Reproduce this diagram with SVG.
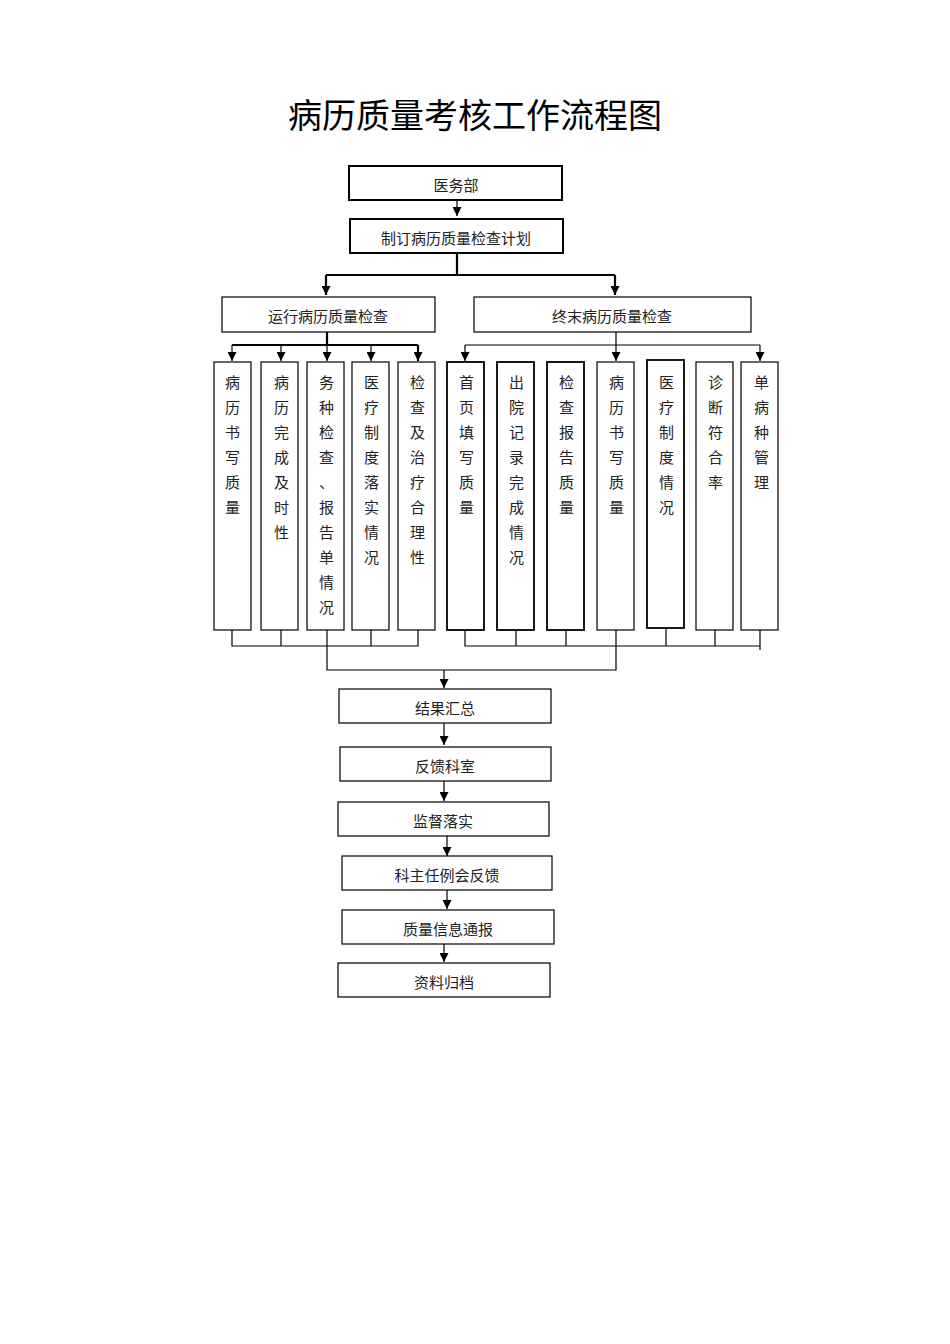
<svg xmlns="http://www.w3.org/2000/svg" width="950" height="1344" viewBox="0 0 950 1344">
<defs>
<marker id="a" viewBox="0 0 10 10" refX="10" refY="5" markerWidth="9" markerHeight="9" markerUnits="userSpaceOnUse" orient="auto"><path d="M0,0L10,5L0,10z" fill="#000"/></marker>
<style>
.b{fill:#fff;stroke:#000;stroke-width:1.2}
.t{font-family:"Noto Sans CJK SC",sans-serif;font-size:15px;fill:#222;text-anchor:middle}
.v{font-family:"Noto Sans CJK SC",sans-serif;font-size:15px;fill:#222;text-anchor:middle}
.c{fill:none;stroke:#000;stroke-width:1.2}
.k{fill:none;stroke:#000;stroke-width:2.2}
</style>
</defs>
<rect width="950" height="1344" fill="#fff"/>
<text x="475" y="128" style="font-family:'Noto Sans CJK SC',sans-serif;font-size:34px;text-anchor:middle">病历质量考核工作流程图</text>
<g id="connectors">
<path class="c" d="M457,200V216" marker-end="url(#a)"/>
<path class="k" d="M457,253V275M326,275H615"/>
<path class="k" d="M326,275V295" marker-end="url(#a)"/>
<path class="k" d="M615,275V295" marker-end="url(#a)"/>
<path class="k" d="M327,332V345M232,345H418"/>
<path class="c" d="M232,345V361" marker-end="url(#a)"/><path class="c" d="M281,345V361" marker-end="url(#a)"/><path class="c" d="M327,345V361" marker-end="url(#a)"/><path class="c" d="M371,345V361" marker-end="url(#a)"/><path class="k" d="M418,345V361" marker-end="url(#a)"/>
<path class="c" d="M616,332V345M465,345H760"/>
<path class="c" d="M465,345V361" marker-end="url(#a)"/><path class="c" d="M616,345V361" marker-end="url(#a)"/><path class="c" d="M760,345V361" marker-end="url(#a)"/>
<path class="c" d="M232,630V646H418V630M281,630V646M371,630V646"/>
<path class="c" d="M465,630V646H760V650M516,630V646M566,630V646M666,628V646M715,630V646M760,630V646"/>
<path class="c" d="M327,630V670H616V630M444,670V688" marker-end="url(#a)"/>
<path class="c" d="M444,723V745" marker-end="url(#a)"/>
<path class="c" d="M444,781V801" marker-end="url(#a)"/>
<path class="c" d="M447,836V856" marker-end="url(#a)"/>
<path class="c" d="M447,890V909" marker-end="url(#a)"/>
<path class="c" d="M444,944V962" marker-end="url(#a)"/>
</g>
<g id="n1"><rect class="b" x="349" y="166" width="213" height="34" style="stroke-width:2"/><text class="t" x="456" y="191">医务部</text></g>
<g id="n2"><rect class="b" x="350" y="219" width="213" height="34" style="stroke-width:2"/><text class="t" x="456" y="244">制订病历质量检查计划</text></g>
<g id="n3"><rect class="b" x="222" y="297" width="213" height="35"/><text class="t" x="328" y="322">运行病历质量检查</text></g>
<g id="n4"><rect class="b" x="474" y="297" width="277" height="35"/><text class="t" x="612" y="322">终末病历质量检查</text></g>
<g id="c1"><rect class="b" x="214" y="362" width="37" height="268"/><text class="v" x="232.5" y="388"><tspan x="232.5">病</tspan><tspan x="232.5" dy="25">历</tspan><tspan x="232.5" dy="25">书</tspan><tspan x="232.5" dy="25">写</tspan><tspan x="232.5" dy="25">质</tspan><tspan x="232.5" dy="25">量</tspan></text></g>
<g id="c2"><rect class="b" x="261" y="362" width="37" height="268"/><text class="v" x="281.5" y="388"><tspan x="281.5">病</tspan><tspan x="281.5" dy="25">历</tspan><tspan x="281.5" dy="25">完</tspan><tspan x="281.5" dy="25">成</tspan><tspan x="281.5" dy="25">及</tspan><tspan x="281.5" dy="25">时</tspan><tspan x="281.5" dy="25">性</tspan></text></g>
<g id="c3"><rect class="b" x="307" y="362" width="37" height="268"/><text class="v" x="326.5" y="388"><tspan x="326.5">务</tspan><tspan x="326.5" dy="25">种</tspan><tspan x="326.5" dy="25">检</tspan><tspan x="326.5" dy="25">查</tspan><tspan x="326.5" dy="25">、</tspan><tspan x="326.5" dy="25">报</tspan><tspan x="326.5" dy="25">告</tspan><tspan x="326.5" dy="25">单</tspan><tspan x="326.5" dy="25">情</tspan><tspan x="326.5" dy="25">况</tspan></text></g>
<g id="c4"><rect class="b" x="352" y="362" width="37" height="268"/><text class="v" x="371.5" y="388"><tspan x="371.5">医</tspan><tspan x="371.5" dy="25">疗</tspan><tspan x="371.5" dy="25">制</tspan><tspan x="371.5" dy="25">度</tspan><tspan x="371.5" dy="25">落</tspan><tspan x="371.5" dy="25">实</tspan><tspan x="371.5" dy="25">情</tspan><tspan x="371.5" dy="25">况</tspan></text></g>
<g id="c5"><rect class="b" x="398" y="362" width="37" height="268"/><text class="v" x="417.5" y="388"><tspan x="417.5">检</tspan><tspan x="417.5" dy="25">查</tspan><tspan x="417.5" dy="25">及</tspan><tspan x="417.5" dy="25">治</tspan><tspan x="417.5" dy="25">疗</tspan><tspan x="417.5" dy="25">合</tspan><tspan x="417.5" dy="25">理</tspan><tspan x="417.5" dy="25">性</tspan></text></g>
<g id="d1"><rect class="b" x="447" y="362" width="37" height="268" style="stroke-width:1.8"/><text class="v" x="466.5" y="388"><tspan x="466.5">首</tspan><tspan x="466.5" dy="25">页</tspan><tspan x="466.5" dy="25">填</tspan><tspan x="466.5" dy="25">写</tspan><tspan x="466.5" dy="25">质</tspan><tspan x="466.5" dy="25">量</tspan></text></g>
<g id="d2"><rect class="b" x="497" y="362" width="37" height="268" style="stroke-width:1.8"/><text class="v" x="516.5" y="388"><tspan x="516.5">出</tspan><tspan x="516.5" dy="25">院</tspan><tspan x="516.5" dy="25">记</tspan><tspan x="516.5" dy="25">录</tspan><tspan x="516.5" dy="25">完</tspan><tspan x="516.5" dy="25">成</tspan><tspan x="516.5" dy="25">情</tspan><tspan x="516.5" dy="25">况</tspan></text></g>
<g id="d3"><rect class="b" x="547" y="362" width="37" height="268" style="stroke-width:1.8"/><text class="v" x="566.5" y="388"><tspan x="566.5">检</tspan><tspan x="566.5" dy="25">查</tspan><tspan x="566.5" dy="25">报</tspan><tspan x="566.5" dy="25">告</tspan><tspan x="566.5" dy="25">质</tspan><tspan x="566.5" dy="25">量</tspan></text></g>
<g id="d4"><rect class="b" x="597" y="362" width="37" height="268"/><text class="v" x="616.5" y="388"><tspan x="616.5">病</tspan><tspan x="616.5" dy="25">历</tspan><tspan x="616.5" dy="25">书</tspan><tspan x="616.5" dy="25">写</tspan><tspan x="616.5" dy="25">质</tspan><tspan x="616.5" dy="25">量</tspan></text></g>
<g id="d5"><rect class="b" x="647" y="360" width="37" height="268" style="stroke-width:1.8"/><text class="v" x="666.5" y="388"><tspan x="666.5">医</tspan><tspan x="666.5" dy="25">疗</tspan><tspan x="666.5" dy="25">制</tspan><tspan x="666.5" dy="25">度</tspan><tspan x="666.5" dy="25">情</tspan><tspan x="666.5" dy="25">况</tspan></text></g>
<g id="d6"><rect class="b" x="696" y="362" width="37" height="268"/><text class="v" x="715.5" y="388"><tspan x="715.5">诊</tspan><tspan x="715.5" dy="25">断</tspan><tspan x="715.5" dy="25">符</tspan><tspan x="715.5" dy="25">合</tspan><tspan x="715.5" dy="25">率</tspan></text></g>
<g id="d7"><rect class="b" x="741" y="362" width="37" height="268"/><text class="v" x="761.5" y="388"><tspan x="761.5">单</tspan><tspan x="761.5" dy="25">病</tspan><tspan x="761.5" dy="25">种</tspan><tspan x="761.5" dy="25">管</tspan><tspan x="761.5" dy="25">理</tspan></text></g>
<g id="s1"><rect class="b" x="339" y="689" width="212" height="34"/><text class="t" x="445" y="714">结果汇总</text></g>
<g id="s2"><rect class="b" x="340" y="747" width="211" height="34"/><text class="t" x="445" y="772">反馈科室</text></g>
<g id="s3"><rect class="b" x="338" y="802" width="211" height="34"/><text class="t" x="443" y="827">监督落实</text></g>
<g id="s4"><rect class="b" x="342" y="856" width="210" height="34"/><text class="t" x="447" y="881">科主任例会反馈</text></g>
<g id="s5"><rect class="b" x="342" y="910" width="212" height="34"/><text class="t" x="448" y="935">质量信息通报</text></g>
<g id="s6"><rect class="b" x="338" y="963" width="212" height="34"/><text class="t" x="444" y="988">资料归档</text></g>
</svg>
